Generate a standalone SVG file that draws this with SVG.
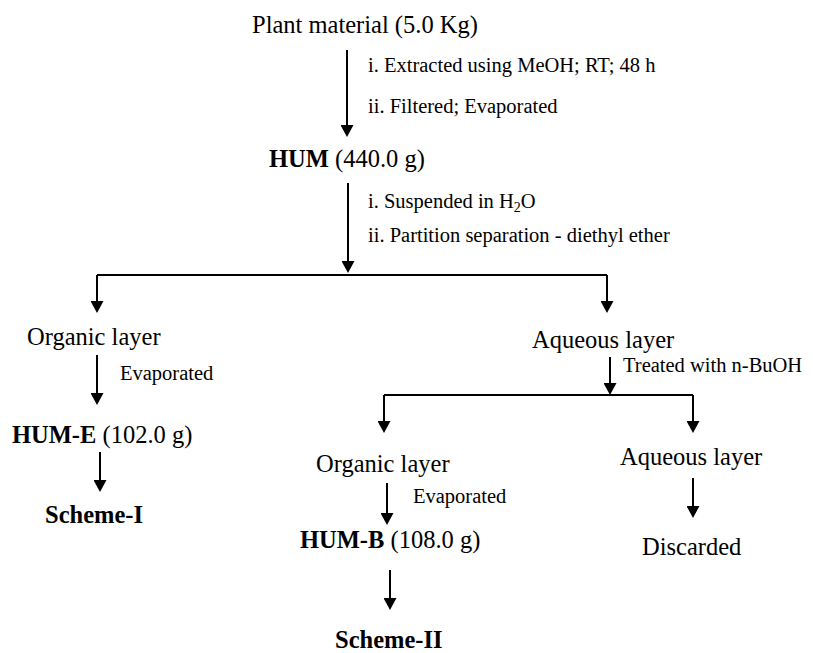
<svg xmlns="http://www.w3.org/2000/svg" width="813" height="653" viewBox="0 0 813 653">
<style>
text{font-family:"Liberation Serif","Times New Roman",serif;fill:#000}
.m{font-size:24.5px}
.l{font-size:20.5px}
.b{font-weight:bold}
.c{fill:none;stroke:#000;stroke-width:2}
.a{fill:none;stroke:#000;stroke-width:2;marker-end:url(#ah)}
</style>
<defs>
<marker id="ah" markerUnits="userSpaceOnUse" markerWidth="13" markerHeight="13" viewBox="0 0 12 13" refX="4" refY="6.5" orient="auto">
<polygon points="0,0 12,6.5 0,13" fill="#000"/>
</marker>
</defs>
<rect width="813" height="653" fill="#fff"/>
<g id="connectors">
<path class="a" d="M347,50 V129"/>
<path class="a" d="M348,183 V265"/>
<path class="c" d="M97,275 H607"/>
<path class="a" d="M97,275 V305"/>
<path class="a" d="M607,275 V305"/>
<path class="a" d="M97,355 V397"/>
<path class="a" d="M100,452 V484"/>
<path class="a" d="M610,357 V387"/>
<path class="c" d="M384,395 H693"/>
<path class="a" d="M384,395 V425"/>
<path class="a" d="M693,395 V425"/>
<path class="a" d="M387,483 V517"/>
<path class="a" d="M390,570 V602"/>
<path class="a" d="M693,478 V510"/>
</g>
<g id="labels">
<text class="l" x="368" y="72">i. Extracted using MeOH; RT; 48 h</text>
<text class="l" x="368" y="113">ii. Filtered; Evaporated</text>
<text class="l" x="368" y="208">i. Suspended in H<tspan font-size="14" dy="4">2</tspan><tspan dy="-4">O</tspan></text>
<text class="l" x="368" y="242">ii. Partition separation - diethyl ether</text>
<text class="l" x="120" y="380">Evaporated</text>
<text class="l" x="623" y="372">Treated with n-BuOH</text>
<text class="l" x="413" y="503">Evaporated</text>
</g>
<g id="plant"><text class="m" x="252" y="33">Plant material (5.0 Kg)</text></g>
<g id="hum"><text class="m" x="269" y="167"><tspan class="b">HUM</tspan> (440.0 g)</text></g>
<g id="organic1"><text class="m" x="27" y="345">Organic layer</text></g>
<g id="hume"><text class="m" x="12" y="443"><tspan class="b">HUM-E</tspan> (102.0 g)</text></g>
<g id="scheme1"><text class="m b" x="45" y="523">Scheme-I</text></g>
<g id="aqueous1"><text class="m" x="532" y="348">Aqueous layer</text></g>
<g id="organic2"><text class="m" x="316" y="472">Organic layer</text></g>
<g id="aqueous2"><text class="m" x="620" y="465">Aqueous layer</text></g>
<g id="humb"><text class="m" x="300" y="548"><tspan class="b">HUM-B</tspan> (108.0 g)</text></g>
<g id="scheme2"><text class="m b" x="335" y="648">Scheme-II</text></g>
<g id="discarded"><text class="m" x="642" y="555">Discarded</text></g>
</svg>
